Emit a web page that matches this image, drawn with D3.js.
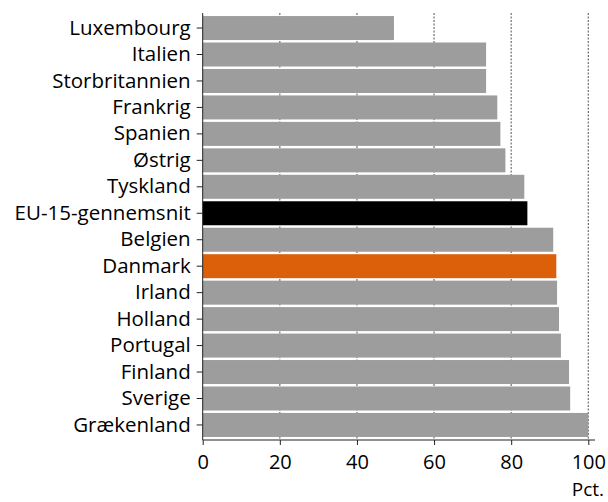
<!DOCTYPE html>
<html><head><meta charset="utf-8">
<script src="https://cdn.jsdelivr.net/npm/d3@7"></script>
<style>body{margin:0;background:#fff}svg{display:block}</style>
</head><body>
<script>
const countries = ["Luxembourg","Italien","Storbritannien","Frankrig","Spanien","Østrig","Tyskland","EU-15-gennemsnit","Belgien","Danmark","Irland","Holland","Portugal","Finland","Sverige","Grækenland"];
const values = [49.6,73.5,73.5,76.4,77.2,78.5,83.4,84.2,90.9,91.7,91.9,92.4,92.9,95.0,95.3,100];
const xTicks = [0,20,40,60,80,100];
const unitLabel = "Pct.";

const W=608,H=502;
const svg=d3.select("body").append("svg").attr("width",W).attr("height",H);
const x=d3.scaleLinear().domain([0,100]).range([202.7,588.3]);
const y=d3.scaleBand().domain(countries).range([13.4,439.6]).paddingInner(0.093).paddingOuter(0.1);
const font="'Open Sans', sans-serif";

// gridlines
svg.append("g").selectAll("line").data(xTicks.filter(d=>d>0)).join("line")
  .attr("x1",d=>x(d)).attr("x2",d=>x(d)).attr("y1",13).attr("y2",440)
  .attr("stroke","#6f6f6f").attr("stroke-width",1.2).attr("stroke-dasharray","2,1.5");

// bars
svg.append("g").selectAll("rect").data(countries).join("rect")
  .attr("x",x(0)).attr("y",d=>y(d)).attr("height",y.bandwidth())
  .attr("width",(d,i)=>x(values[i])-x(0))
  .attr("fill",d=>d==="EU-15-gennemsnit"?"#000000":(d==="Danmark"?"#dc600a":"#9d9d9d"));

// y axis
const ya=svg.append("g").attr("transform",`translate(${x(0)},0)`)
  .call(d3.axisLeft(y).tickSize(6).tickPadding(6));
ya.select(".domain").attr("d","M0,13V440").attr("stroke","#222");
ya.selectAll(".tick line").attr("stroke","#222");
ya.selectAll("text").attr("font-family",font).attr("font-size","20.5px").attr("fill","#000");

// x axis
const xa=svg.append("g").attr("transform","translate(0,440)")
  .call(d3.axisBottom(x).tickValues(xTicks).tickSize(5).tickPadding(10));
xa.select(".domain").attr("d",`M${x(0)},0H595`).attr("stroke","#222");
xa.selectAll(".tick line").attr("stroke","#222");
xa.selectAll("text").attr("font-family",font).attr("font-size","20px").attr("fill","#000");

svg.append("text").attr("x",604).attr("y",496).attr("text-anchor","end")
  .attr("font-family",font).attr("font-size","19px").text(unitLabel);
</script>
</body></html>
